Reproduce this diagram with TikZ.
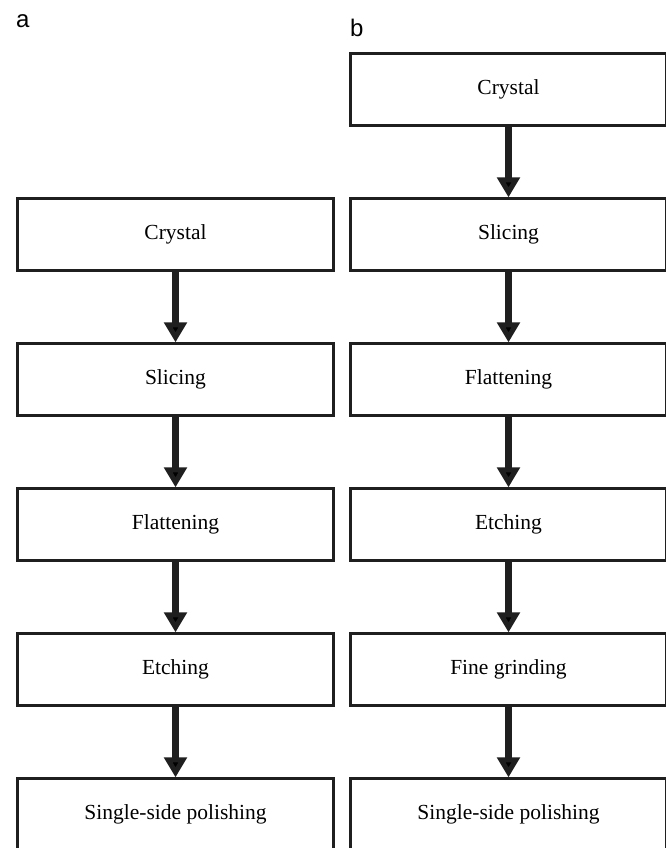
\documentclass[tikz,border=0pt]{standalone}
\usepackage{fontspec}
\setmainfont{Liberation Serif}
\newfontfamily\panelfont{Liberation Sans}
\usetikzlibrary{arrows.meta, positioning}

\tikzset{
  stepbox/.style = {draw=black!88, line width=2.2pt, minimum width=316pt, minimum height=72pt,
    inner sep=0pt, font=\fontsize{21.5}{25}\selectfont},
  flow/.style = {-{Triangle[width=22pt, length=20pt]}, line width=7.5pt, draw=black!88},
  panel/.style = {anchor=base west, inner sep=0pt, font=\panelfont\fontsize{24}{28}\selectfont}
}

\begin{document}
\begin{tikzpicture} [x=1pt, y=1pt, node distance = 145pt, on grid]
\useasboundingbox (0,0) rectangle (666,-848);

% a
\node (tagA) [panel] at (16,-28) {a};
\node (a1) [stepbox] at (175.5,-234.5) {Crystal};
\node (a2) [stepbox, below = of a1] {Slicing};
\node (a3) [stepbox, below = of a2] {Flattening};
\node (a4) [stepbox, below = of a3] {Etching};
\node (a5) [stepbox, below = of a4] {Single-side polishing};

% b
\node (tagB) [panel] at (350,-37) {b};
\node (b1) [stepbox] at (508.5,-89.5) {Crystal};
\node (b2) [stepbox, below = of b1] {Slicing};
\node (b3) [stepbox, below = of b2] {Flattening};
\node (b4) [stepbox, below = of b3] {Etching};
\node (b5) [stepbox, below = of b4] {Fine grinding};
\node (b6) [stepbox, below = of b5] {Single-side polishing};

\path [flow]
  (a1) edge (a2)
  (a2) edge (a3)
  (a3) edge (a4)
  (a4) edge (a5);

\path [flow]
  (b1) edge (b2)
  (b2) edge (b3)
  (b3) edge (b4)
  (b4) edge (b5)
  (b5) edge (b6);

\end{tikzpicture}
\end{document}
